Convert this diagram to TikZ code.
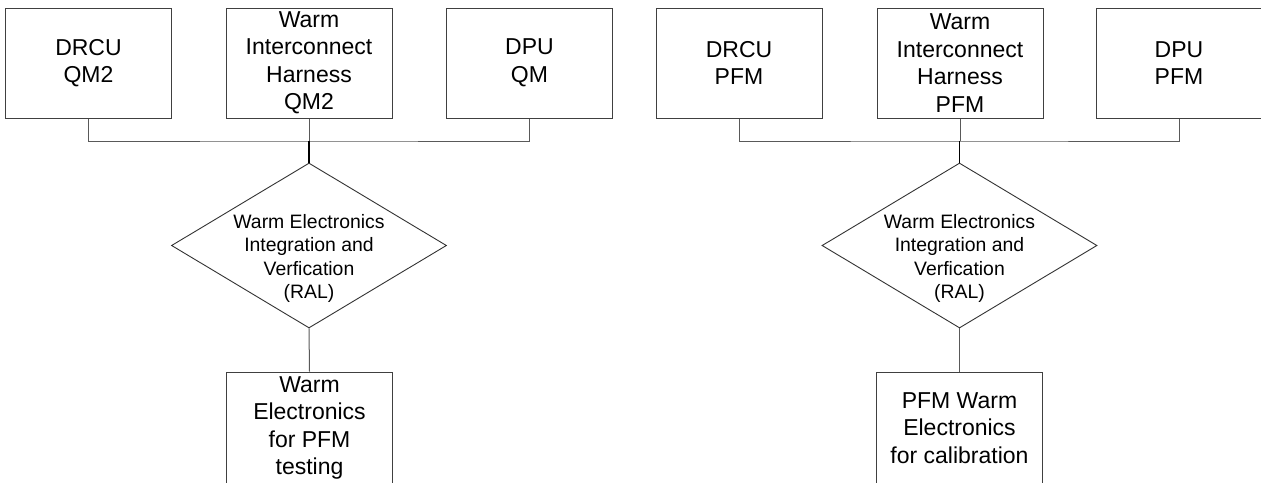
\documentclass[tikz,border=0pt]{standalone}
\usepackage{fontspec}
\setmainfont{Liberation Sans}
\usetikzlibrary{shapes.geometric}
\tikzset{
  box/.style={draw=black!75, line width=1pt, rectangle, minimum width=166pt, minimum height=110pt, inner sep=0pt, align=center, font=\fontsize{23}{27.5}\selectfont},
  decision/.style={draw=black!80, line width=0.9pt, diamond, minimum width=275pt, minimum height=165pt, inner sep=0pt},
  dtext/.style={align=center, font=\fontsize{19.4}{23.5}\selectfont},
  conn/.style={draw=black!65, line width=1pt},
  mainconn/.style={draw=black, line width=1.6pt}
}
\begin{document}
\begin{tikzpicture}[x=1pt,y=-1pt]
\clip (0,0) rectangle (1261,482);
\fill[white] (0,0) rectangle (1261,482);
% left group
\node[box] (drcuA) at (88.5,63) {DRCU\\QM2};
\node[box] (wihA) at (309,63) {Warm\\Interconnect\\Harness\\QM2};
\node[box] (dpuA) at (529.5,63) {DPU\\QM};
\coordinate (busA) at (309,141);
\node[decision] (diaA) at (309,245.5) {};
\node[dtext] (diaAtext) at (309,258.5) {Warm Electronics\\Integration and\\Verfication\\(RAL)};
\node[box, minimum height=112pt] (outA) at (309.5,428) {Warm\\Electronics\\ for PFM\\testing};
\draw[conn] (drcuA.south) |- (busA) -| (dpuA.south);
\draw[conn] (wihA.south) -- (busA);
\draw[mainconn] (busA) -- (diaA.north);
\draw[conn] (diaA.south) -- (outA.north);
% right group
\node[box] (drcuB) at (739,63) {DRCU\\PFM};
\node[box] (wihB) at (960,63) {Warm\\Interconnect\\Harness\\PFM};
\node[box] (dpuB) at (1179,63) {DPU\\PFM};
\coordinate (busB) at (959.5,141);
\node[decision] (diaB) at (959.5,245.5) {};
\node[dtext] (diaBtext) at (959.5,258.5) {Warm Electronics\\Integration and\\Verfication\\(RAL)};
\node[box, minimum height=112pt] (outB) at (959.5,428) {PFM Warm\\Electronics\\for calibration};
\draw[conn] (drcuB.south) |- (busB) -| (dpuB.south);
\draw[conn] (wihB.south |- busB) -- (wihB.south);
\draw[mainconn] (busB) -- (diaB.north);
\draw[conn] (diaB.south) -- (outB.north);
\end{tikzpicture}
\end{document}
